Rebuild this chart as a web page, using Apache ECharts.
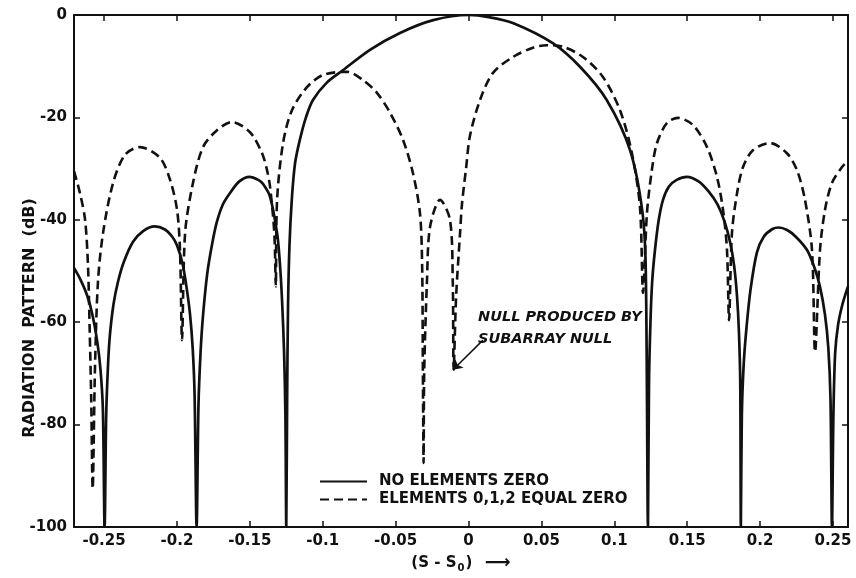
<!DOCTYPE html>
<html>
<head>
<meta charset="utf-8">
<script src="https://cdn.jsdelivr.net/npm/echarts@6/dist/echarts.min.js"></script>
<style>
  html, body { margin: 0; padding: 0; background: #fff; }
  #chart { width: 856px; height: 578px; }
</style>
</head>
<body>
<div id="chart"></div>
<script>
// (S - S0) values and pattern in dB
const xSolid = [
  -0.2706, -0.2665, -0.2617, -0.258, -0.2548, -0.2525, -0.2508, -0.2496, -0.2485, -0.2472,
  -0.2459, -0.2435, -0.2405, -0.2365, -0.2301, -0.2232, -0.2152, -0.2082, -0.2032, -0.1999,
  -0.1962, -0.1935, -0.191, -0.1892, -0.1879, -0.1865, -0.1852, -0.1838, -0.1822, -0.1792,
  -0.1757, -0.1727, -0.1685, -0.1637, -0.1572, -0.1502, -0.1442, -0.1409, -0.1361, -0.1313,
  -0.1295, -0.1279, -0.1265, -0.1256, -0.125, -0.1244, -0.1238, -0.1228, -0.1212, -0.119,
  -0.1157, -0.1115, -0.1067, -0.0972, -0.0862, -0.0676, -0.047, -0.0242, 0, 0.0138,
  0.0308, 0.0578, 0.0768, 0.0948, 0.1108, 0.1193, 0.1216, 0.1231, 0.1238, 0.1248,
  0.126, 0.1279, 0.1305, 0.1334, 0.1375, 0.1428, 0.1498, 0.1578, 0.1648, 0.1708,
  0.1758, 0.1795, 0.1822, 0.1842, 0.1855, 0.1864, 0.1868, 0.1875, 0.1888, 0.1907,
  0.1935, 0.1978, 0.2025, 0.2085, 0.2128, 0.2185, 0.2245, 0.2322, 0.2375, 0.2411,
  0.2445, 0.2468, 0.2483, 0.2493, 0.2503, 0.2515, 0.2535, 0.2565, 0.2603
]
const ySolid = [
  -49.4, -51.5, -54.7, -58.5, -63.5, -69, -77, -100, -78, -68,
  -62.3, -56.5, -52.2, -48.3, -44.3, -42.2, -41.3, -41.9, -43.3, -45,
  -48.5, -53, -58.5, -65, -74, -100, -76, -66, -59, -50.5,
  -44.5, -40.5, -37, -34.8, -32.5, -31.6, -32.2, -33, -35.5, -42.6,
  -48, -55.7, -66, -78, -100, -75, -57, -45, -36, -29,
  -24.4, -20, -16.6, -13.2, -10.8, -6.8, -3.5, -1, 0, -0.4,
  -1.6, -5.5, -10.2, -16.6, -26.4, -38.5, -50, -100, -72, -60,
  -52, -45.9, -40, -36.1, -33.5, -32.2, -31.6, -32.5, -34.5, -37,
  -40.5, -44.5, -49, -55, -62, -72, -100, -78, -68, -61,
  -53.5, -46.4, -43.3, -41.8, -41.5, -42, -43.3, -45.9, -49.5, -53.1,
  -58.5, -65, -75, -100, -78, -66, -60.5, -56.5, -53
]

const xDashed = [
  -0.2706, -0.2665, -0.263, -0.261, -0.2598, -0.2588, -0.2578, -0.2562, -0.2542, -0.2507,
  -0.2438, -0.2356, -0.2253, -0.2116, -0.2047, -0.1999, -0.1979, -0.1965, -0.1944, -0.189,
  -0.1821, -0.1725, -0.1622, -0.1499, -0.1416, -0.1382, -0.1361, -0.1332, -0.1322, -0.1313,
  -0.1272, -0.1211, -0.1108, -0.0998, -0.0833, -0.0724, -0.0628, -0.0538, -0.0449, -0.0381,
  -0.0333, -0.0318, -0.0313, -0.0308, -0.0304, -0.0285, -0.0264, -0.0195, -0.0127, -0.0108,
  -0.0102, -0.0085, -0.0058, -0.0045, -0.0017, 0.001, 0.0079, 0.0168, 0.0305, 0.0442,
  0.0538, 0.0648, 0.0785, 0.0922, 0.1039, 0.1121, 0.1176, 0.1197, 0.1224, 0.1259,
  0.1293, 0.1361, 0.1437, 0.154, 0.1636, 0.1704, 0.1746, 0.1773, 0.1787, 0.1807,
  0.1842, 0.1883, 0.1951, 0.2068, 0.2184, 0.2253, 0.2308, 0.2356, 0.2377, 0.2411,
  0.2445, 0.2493, 0.2562, 0.2603
]
const yDashed = [
  -30.5, -34.8, -40, -49, -62, -75, -92.5, -68.8, -52.3, -42.6,
  -32.8, -27.3, -25.8, -27.9, -32.2, -38.1, -45.9, -63.5, -42.6, -32.8,
  -25.8, -22.5, -20.9, -22.9, -27, -30.3, -33.6, -42.6, -53, -36.1,
  -25, -18.6, -14.1, -11.7, -11.1, -12.7, -15.2, -19.1, -24.4, -30.9,
  -38.7, -49, -70, -87.5, -70, -52, -41.4, -36.1, -40, -52,
  -69.3, -55, -42.6, -37, -30, -23.6, -16.6, -11.3, -8.2, -6.4,
  -5.9, -6.2, -8.2, -12.1, -18.6, -27, -37.5, -54.3, -38.7, -30,
  -25, -21.1, -20.1, -21.5, -25.8, -31.6, -38.1, -45.9, -59.6, -42.6,
  -34.8, -29.7, -26.4, -25, -27, -30.3, -36.1, -45.9, -65.8, -45.9,
  -38.1, -32.8, -29.7, -28.5
]

const xTickValues = [-0.25, -0.2, -0.15, -0.1, -0.05, 0, 0.05, 0.1, 0.15, 0.2, 0.25]
const xTickLabels = ['-0.25', '-0.2', '-0.15', '-0.1', '-0.05', '0', '0.05', '0.1', '0.15', '0.2', '0.25']
const yTickValues = [0, -20, -40, -60, -80, -100]

// arrow of the note, from the text down to the subarray null
const arrowFrom = [0.0099, -63.5]
const arrowTo = [-0.0106, -69.3]

const seriesNames = ['NO ELEMENTS ZERO', 'ELEMENTS 0,1,2 EQUAL ZERO']

const FONT = '"DejaVu Sans", "Liberation Sans", sans-serif'
const INK = '#111'

const chart = echarts.init(document.getElementById('chart'))

const toPairs = (xs, ys) => xs.map((x, i) => [x, ys[i]])

const baseX = {
  type: 'value',
  min: -0.2706,
  max: 0.2603,
  splitLine: { show: false },
  axisLine: { show: true, onZero: false, lineStyle: { color: INK, width: 2 } },
  axisTick: { show: true, inside: true, length: 6, customValues: xTickValues, lineStyle: { color: INK, width: 1.5 } }
}
const baseY = {
  type: 'value',
  min: -100,
  max: 0,
  interval: 20,
  splitLine: { show: false },
  axisLine: { show: true, onZero: false, lineStyle: { color: INK, width: 2 } },
  axisTick: { show: true, inside: true, length: 6, lineStyle: { color: INK, width: 1.5 } }
}

chart.setOption({
  backgroundColor: '#fff',
  animation: false,
  grid: { left: 74, right: 8, top: 15, bottom: 51, outerBoundsMode: 'none' },
  legend: {
    data: seriesNames,
    orient: 'vertical',
    left: 314,
    top: 469,
    itemWidth: 47,
    itemHeight: 6,
    itemGap: 3,
    itemStyle: { opacity: 0 },
    textStyle: { fontFamily: FONT, fontWeight: 'bold', fontSize: 15, lineHeight: 15, color: INK, padding: [0, 0, 0, 7] }
  },
  xAxis: [
    Object.assign({}, baseX, {
      position: 'bottom',
      name: '{a|(S - S}{sub|0}{a|)}{arr|  \u27F6}',
      nameLocation: 'middle',
      nameGap: 26,
      nameTextStyle: {
        rich: {
          a: { fontFamily: FONT, fontWeight: 'bold', fontSize: 15, color: INK, lineHeight: 20, verticalAlign: 'middle' },
          sub: { fontFamily: FONT, fontWeight: 'bold', fontSize: 10, color: INK, lineHeight: 20, verticalAlign: 'bottom', padding: [0, 1, 0, 1] },
          arr: { fontFamily: FONT, fontWeight: 'bold', fontSize: 18, color: INK, lineHeight: 20, verticalAlign: 'middle' }
        }
      },
      axisLabel: {
        show: true,
        customValues: xTickValues,
        margin: 7,
        fontFamily: FONT,
        fontWeight: 'bold',
        fontSize: 15,
        color: INK,
        formatter: v => {
          const i = xTickValues.findIndex(t => Math.abs(t - v) < 1e-9)
          return i >= 0 ? xTickLabels[i] : ''
        }
      }
    }),
    Object.assign({}, baseX, { position: 'top', axisLabel: { show: false } })
  ],
  yAxis: [
    Object.assign({}, baseY, {
      position: 'left',
      axisLabel: {
        show: true,
        margin: 7,
        fontFamily: FONT,
        fontWeight: 'bold',
        fontSize: 15,
        color: INK,
        formatter: v => (yTickValues.indexOf(v) >= 0 ? String(v) : '')
      }
    }),
    Object.assign({}, baseY, { position: 'right', axisLabel: { show: false } })
  ],
  graphic: [
    {
      type: 'text',
      x: 30,
      y: 318,
      rotation: Math.PI / 2,
      style: {
        text: 'RADIATION  PATTERN  (dB)',
        font: 'bold 16px ' + FONT,
        fill: INK,
        align: 'center',
        verticalAlign: 'middle'
      }
    },
    {
      type: 'text',
      left: 478,
      top: 306,
      style: {
        text: 'NULL PRODUCED BY\nSUBARRAY NULL',
        font: 'italic bold 14.5px ' + FONT,
        lineHeight: 22,
        fill: INK
      }
    }
  ],
  series: [
    {
      name: seriesNames[0],
      type: 'line',
      data: toPairs(xSolid, ySolid),
      showSymbol: false,
      symbol: 'none',
      smooth: 0.3,
      clip: true,
      lineStyle: { color: INK, width: 2.7, type: 'solid' },
      itemStyle: { color: INK }
    },
    {
      name: seriesNames[1],
      type: 'line',
      data: toPairs(xDashed, yDashed),
      showSymbol: false,
      symbol: 'none',
      smooth: 0.3,
      clip: true,
      lineStyle: { color: INK, width: 2.6, type: [9, 5] },
      itemStyle: { color: INK },
      markLine: {
        silent: true,
        symbol: ['none', 'arrow'],
        symbolSize: 9,
        label: { show: false },
        lineStyle: { color: INK, width: 1.5, type: 'solid' },
        data: [[{ coord: arrowFrom }, { coord: arrowTo }]]
      }
    }
  ]
})
</script>
</body>
</html>
